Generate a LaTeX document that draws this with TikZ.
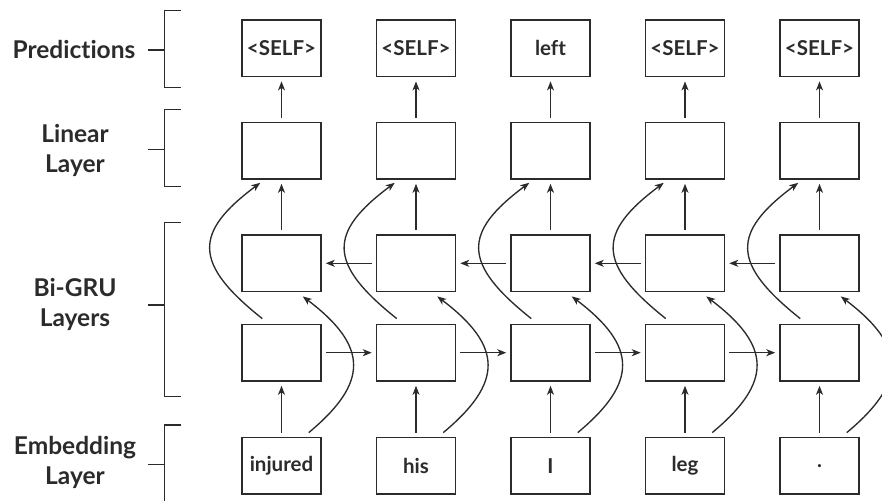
\documentclass[tikz,border=0pt]{standalone}
\usepackage{fontspec}
\setmainfont{Lato}[Ligatures=NoCommon]
\usetikzlibrary{arrows.meta,calc}
\definecolor{ink}{HTML}{2B2B2B}
\tikzset{
  cell/.style={draw=ink, line width=1.5pt, minimum width=79pt, minimum height=56.7pt, inner sep=0pt, font=\fontsize{20.5}{24}\selectfont\bfseries, text=ink},
  lab/.style={align=center, font=\fontsize{24.5}{30}\selectfont\bfseries, text=ink},
  arr/.style={draw=ink, line width=1.35pt, -{Stealth[length=9pt,width=7pt,inset=2.5pt]}},
  straight/.style={arr, shorten >=4pt, shorten <=4pt},
  brk/.style={draw=ink, line width=1.4pt}
}
\begin{document}
\begin{tikzpicture}[x=1pt,y=-1pt]
\useasboundingbox (0,0) rectangle (882,500);
% columns
\foreach \i/\x/\p/\w in {1/281.5/{<SELF>}/injured, 2/416/{<SELF>}/his, 3/550.5/left/I, 4/685/{<SELF>}/leg, 5/819.5/{<SELF>}/.}{
  \node[cell] (p\i) at (\x,48.3) {\p};
  \node[cell] (l\i) at (\x,150.7) {};
  \node[cell] (b\i) at (\x,263.3) {};
  \node[cell] (f\i) at (\x,352.7) {};
  \node[cell] (e\i) at (\x,465.7) {\w};
}
% vertical arrows
\foreach \i in {1,...,5}{
  \draw[straight] (e\i) -- (f\i);
  \draw[straight] (b\i) -- (l\i);
  \draw[straight] (l\i) -- (p\i);
}
% horizontal arrows
\foreach \i/\j in {1/2,2/3,3/4,4/5}{
  \draw[straight] (f\i) -- (f\j);
  \draw[straight] (b\j) -- (b\i);
}
% curved skip arrows
\foreach \i in {1,...,5}{
  \draw[arr] ($(f\i.north west)+(21,-5)$) .. controls +(-69,-55) and +(-67,50) .. ($(l\i.south west)+(19,3)$);
  \draw[arr] ($(e\i.north east)+(-13,-4)$) .. controls +(60,-50) and +(66,50) .. ($(b\i.south east)+(-19,4)$);
}
% brackets
\draw[brk] (180.7,10.7) -- (164.3,10.7) -- (164.3,87.3) -- (180.7,87.3);
\draw[brk] (148,50) -- (164.3,50);
\draw[brk] (180.7,109.3) -- (164.3,109.3) -- (164.3,186.7) -- (180.7,186.7);
\draw[brk] (148,149.3) -- (164.3,149.3);
\draw[brk] (180.7,222.7) -- (164.3,222.7) -- (164.3,396.7) -- (180.7,396.7);
\draw[brk] (148,305) -- (164.3,305);
\draw[brk] (180.7,425) -- (164.3,425) -- (164.3,510);
\draw[brk] (148,464.3) -- (164.3,464.3);
% labels
\node[lab] (lp) at (74,49) {Predictions};
\node[lab] (ll) at (75,150) {Linear\\Layer};
\node[lab] (lb) at (75,304) {Bi-GRU\\Layers};
\node[lab] (le) at (75,462) {Embedding\\Layer};
\end{tikzpicture}
\end{document}
